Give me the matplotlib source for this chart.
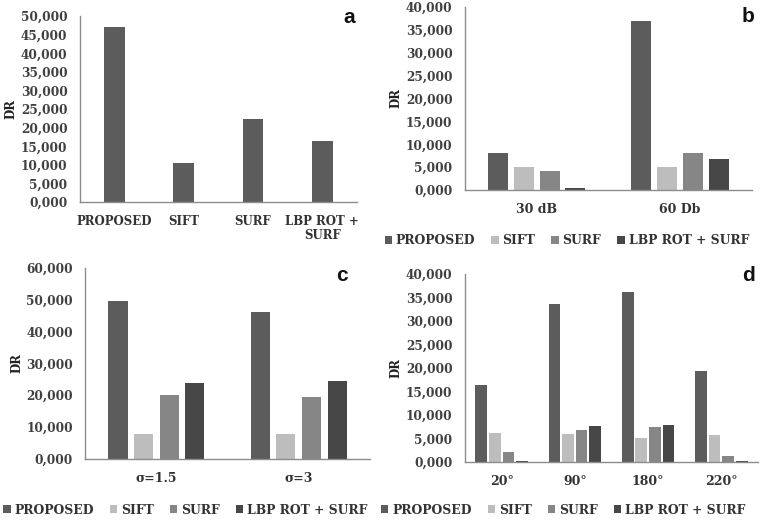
import matplotlib
matplotlib.use("Agg")
import matplotlib.pyplot as plt
import numpy as np
from matplotlib.ticker import FuncFormatter

series = ["PROPOSED", "SIFT", "SURF", "LBP ROT + SURF"]
colors = ["#5c5c5c", "#bdbdbd", "#868686", "#474747"]

# panel a: one value per method
a_labels = ["PROPOSED", "SIFT", "SURF", "LBP ROT +\nSURF"]
a_values = [47000, 10500, 22300, 16500]

# panel b: noise
b_groups = ["30 dB", "60 Db"]
b_proposed = [8200, 37000]
b_sift = [5000, 5000]
b_surf = [4100, 8000]
b_lbp = [400, 6800]

# panel c: blur
c_groups = ["σ=1.5", "σ=3"]
c_proposed = [49500, 46200]
c_sift = [7800, 7800]
c_surf = [20000, 19400]
c_lbp = [24000, 24400]

# panel d: rotation
d_groups = ["20°", "90°", "180°", "220°"]
d_proposed = [16300, 33700, 36200, 19300]
d_sift = [6100, 5900, 5100, 5800]
d_surf = [2200, 6800, 7400, 1400]
d_lbp = [300, 7700, 7900, 300]

SERIF = "DejaVu Serif"
TICK_COLOR = "#404040"
TEXT_COLOR = "#333333"


def fmt(v, pos):
    # values shown in thousands with a comma as decimal mark, e.g. 5,000
    return f"{int(v // 1000)},{int(v % 1000):03d}"


def style_axes(ax, ymax, step):
    ax.set_ylim(0, ymax)
    ax.set_yticks(np.arange(0, ymax + 1, step))
    ax.yaxis.set_major_formatter(FuncFormatter(fmt))
    for s in ["top", "right"]:
        ax.spines[s].set_visible(False)
    for s in ["left", "bottom"]:
        ax.spines[s].set_color("#8c8c8c")
        ax.spines[s].set_linewidth(1.0)
    ax.tick_params(axis="y", length=0, pad=9)
    ax.tick_params(axis="x", length=0, pad=9)
    for lbl in ax.get_yticklabels():
        lbl.set_fontfamily(SERIF)
        lbl.set_fontweight("bold")
        lbl.set_fontsize(8.7)
        lbl.set_color(TICK_COLOR)
    ax.set_ylabel("DR", fontfamily=SERIF, fontweight="bold", fontsize=8.5,
                  color="#222222", labelpad=2)


def grouped(ax, groups, data, width, pitch):
    x = np.arange(len(groups))
    offs = (np.arange(len(data)) - (len(data) - 1) / 2) * pitch
    for i, vals in enumerate(data):
        ax.bar(x + offs[i], vals, width, color=colors[i], label=series[i], zorder=2)
    ax.set_xlim(-0.5, len(groups) - 0.5)
    ax.set_xticks(x)
    ax.set_xticklabels(groups, fontfamily=SERIF, fontweight="bold", fontsize=9,
                       color=TEXT_COLOR)


def add_legend(ax, x, y):
    ax.legend(loc="center", bbox_to_anchor=(x, y), ncol=4, frameon=False,
              handlelength=0.6, handleheight=0.6, handletextpad=0.3, columnspacing=1.3,
              prop={"family": SERIF, "weight": "bold", "size": 8.9}, labelcolor=TEXT_COLOR)


fig = plt.figure(figsize=(7.61, 5.21), dpi=100)

ax_a = fig.add_axes([0.105, 0.612, 0.364, 0.357])
ax_b = fig.add_axes([0.611, 0.635, 0.377, 0.352])
ax_c = fig.add_axes([0.112, 0.119, 0.374, 0.367])
ax_d = fig.add_axes([0.611, 0.113, 0.385, 0.361])

# a
xa = np.arange(len(a_labels))
ax_a.bar(xa, a_values, 0.30, color=colors[0], zorder=2)
ax_a.set_xlim(-0.5, len(a_labels) - 0.5)
ax_a.set_xticks(xa)
ax_a.set_xticklabels(a_labels, fontfamily=SERIF, fontweight="bold", fontsize=8.5,
                     color=TEXT_COLOR, linespacing=1.1)
style_axes(ax_a, 50000, 5000)

# b
grouped(ax_b, b_groups, [b_proposed, b_sift, b_surf, b_lbp], 0.14, 0.18)
style_axes(ax_b, 40000, 5000)
add_legend(ax_b, 0.355, -0.275)

# c
grouped(ax_c, c_groups, [c_proposed, c_sift, c_surf, c_lbp], 0.135, 0.18)
style_axes(ax_c, 60000, 10000)
add_legend(ax_c, 0.352, -0.267)

# d
grouped(ax_d, d_groups, [d_proposed, d_sift, d_surf, d_lbp], 0.16, 0.185)
style_axes(ax_d, 40000, 5000)
add_legend(ax_d, 0.335, -0.255)

# panel letters
for txt, x, y in [("a", 0.466, 0.967), ("b", 0.992, 0.969), ("c", 0.457, 0.472), ("d", 0.992, 0.472)]:
    fig.text(x, y, txt, ha="right", va="center", fontfamily="Liberation Sans",
             fontweight="bold", fontsize=15, color="#111111")

fig.savefig("out.png", dpi=100)
